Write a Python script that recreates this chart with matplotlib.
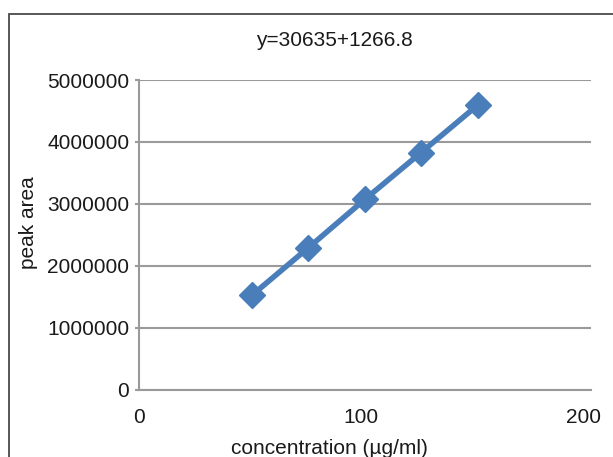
import matplotlib
matplotlib.use("Agg")
import matplotlib.pyplot as plt
from matplotlib.patches import Rectangle

plt.rcParams['font.family'] = ['Liberation Sans', 'DejaVu Sans']

concentration = [51.0, 76.3, 101.8, 127.0, 152.6]
peak_area = [1527000, 2291000, 3073000, 3826000, 4596000]
x_ticks = [0, 100, 200]
y_ticks = [0, 1000000, 2000000, 3000000, 4000000, 5000000]
title = "y=30635+1266.8"
x_label = "concentration (\u00b5g/ml)"
y_label = "peak area"

W, H = 613, 457
FS = 15
fig = plt.figure(figsize=(W/100, H/100), dpi=100)
ax = fig.add_axes([139/W, 1-389.5/H, (591-139)/W, (389.5-80)/H])

ax.plot(concentration, peak_area, color='#4A7EBB', linewidth=4, marker='D',
        markersize=13, markerfacecolor='#4A7EBB', markeredgecolor='#4A7EBB',
        zorder=3, clip_on=False)

ax.set_xlim(0, 203.6)
ax.set_ylim(0, 5000000)
ax.set_xticks(x_ticks)
ax.set_yticks(y_ticks)
ax.set_yticklabels([str(v) for v in y_ticks])
ax.set_xticklabels([str(v) for v in x_ticks])
ax.grid(axis='y', color='#9A9A9A', linewidth=1.5)
ax.set_axisbelow(True)
for s in ['top', 'right']:
    ax.spines[s].set_visible(False)
for s in ['left', 'bottom']:
    ax.spines[s].set_color('#9A9A9A')
    ax.spines[s].set_linewidth(1.5)
ax.tick_params(axis='y', length=3, width=1.5, color='#9A9A9A', labelsize=FS, pad=4, labelcolor='#1a1a1a')
ax.tick_params(axis='x', length=0, labelsize=FS, pad=13, labelcolor='#1a1a1a')

fig.text(329/W, 1-453.5/H, x_label, fontsize=FS, color='#1a1a1a', ha='center', va='baseline')
fig.text(28/W, 1-223/H, y_label, rotation=90, fontsize=FS, color='#1a1a1a',
         ha='center', va='center')
fig.text(334/W, 1-46/H, title, fontsize=FS, color='#1a1a1a', ha='center', va='baseline')

fig.patches.append(Rectangle((9/W, -0.1), 1.2, 1 - 14/H + 0.1,
                             transform=fig.transFigure, fill=False,
                             edgecolor='#4a4a4a', linewidth=1.3))

fig.savefig("out.png", dpi=100)
